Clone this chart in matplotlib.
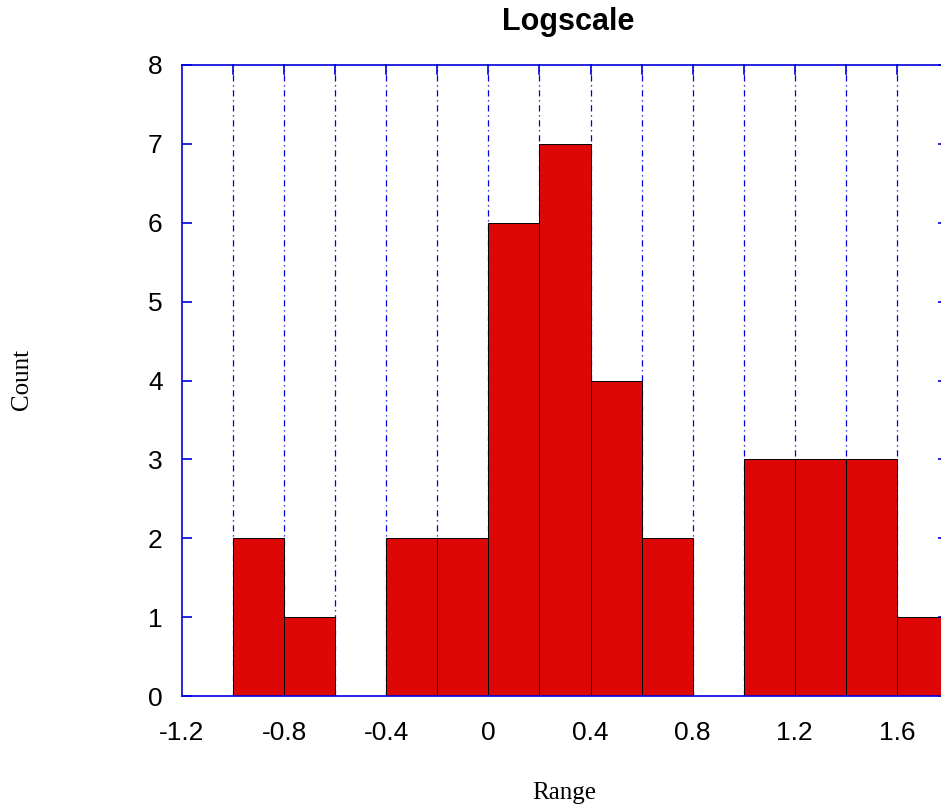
import numpy as np
import matplotlib.pyplot as plt

# --- data ---
bin_left = [-1.2, -1.0, -0.8, -0.6, -0.4, -0.2, 0.0, 0.2, 0.4, 0.6, 0.8, 1.0, 1.2, 1.4, 1.6]
counts = [0, 2, 1, 0, 2, 2, 6, 7, 4, 2, 0, 3, 3, 3, 1]
bin_width = 0.2
x_ticks = [-1.2, -0.8, -0.4, 0, 0.4, 0.8, 1.2, 1.6]
x_tick_labels = ["-1.2", "-0.8", "-0.4", "0", "0.4", "0.8", "1.2", "1.6"]

blue = "#0000dd"

fig = plt.figure(figsize=(9.41, 8.10), dpi=100)
ax = fig.add_axes([182 / 941, 1 - 696 / 810, (948 - 182) / 941, (696 - 65) / 810])

# grid first, bars on top
for x in np.arange(-1.0, 1.81, 0.2):
    ax.axvline(x, color=blue, lw=0.9, ls=(0, (5, 3, 1, 3)), zorder=1)
    ax.plot([x, x], [7.88, 8], color=blue, lw=1.2, zorder=1, clip_on=False)

ax.bar(bin_left, counts, width=bin_width, align="edge",
       color="#dd0806", edgecolor="black", linewidth=0.7, zorder=2)

ax.set_xlim(-1.2, 1.8)
ax.set_ylim(0, 8)
ax.set_xticks(x_ticks)
ax.set_xticklabels(x_tick_labels)
ax.set_yticks(range(0, 9))

for s in ax.spines.values():
    s.set_color(blue)
    s.set_linewidth(1.2)

ax.tick_params(axis="both", direction="in", colors=blue, length=7, width=1.2,
               labelcolor="black", labelsize=19, labelfontfamily="Liberation Sans")
ax.tick_params(axis="x", pad=18, bottom=False, top=False, length=0)
ax.tick_params(axis="y", pad=14, left=True, right=True)

fig.text(568 / 941, 1 - 22 / 810, "Logscale", ha="center", va="center",
         fontsize=22, fontweight="bold", family="Liberation Sans")
fig.text(564 / 941, 1 - 793 / 810, "Range", ha="center", va="center",
         fontsize=18, family="Liberation Serif")
fig.text(22 / 941, 1 - 380 / 810, "Count", ha="center", va="center",
         fontsize=18, family="Liberation Serif", rotation=90)

fig.savefig("out.png", dpi=100)
